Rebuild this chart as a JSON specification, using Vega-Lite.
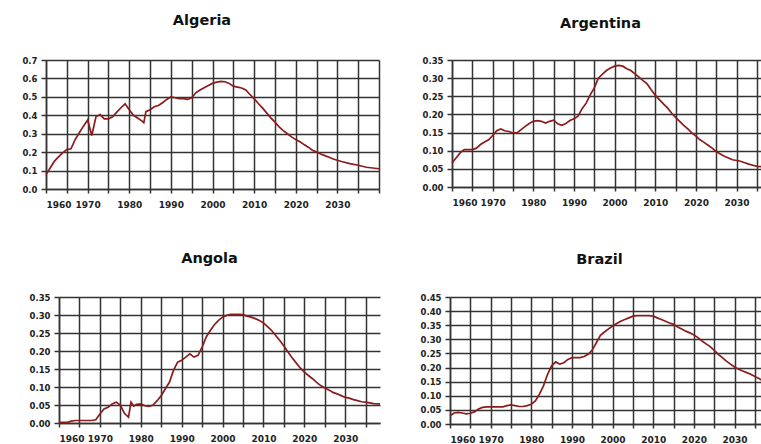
{
  "$schema": "https://vega.github.io/schema/vega-lite/v6.json",
  "padding": {"top": 12, "left": 0, "right": 0, "bottom": 0},
  "background": "white",
  "config": {
    "view": {"stroke": null},
    "font": "DejaVu Sans",
    "axis": {
      "labelFont": "DejaVu Sans",
      "labelFontWeight": "bold",
      "labelFontSize": 8.5,
      "labelColor": "#222222",
      "domainColor": "#333333",
      "domainWidth": 1.5,
      "tickColor": "#333333",
      "tickWidth": 1.5,
      "gridColor": "#333333",
      "gridWidth": 1.5,
      "gridOpacity": 1,
      "title": null
    },
    "axisX": {"tickSize": 4, "labelPadding": 7, "labelFontSize": 9},
    "axisY": {"tickSize": 5, "labelPadding": 4},
    "title": {"font": "DejaVu Sans", "fontSize": 14.5, "fontWeight": "bold", "color": "#111111", "anchor": "middle", "frame": "group", "baseline": "alphabetic"}
  },
  "data": {"values": [
    {"country": "Algeria", "year": 1960, "value": 0.078},
    {"country": "Algeria", "year": 1961, "value": 0.114},
    {"country": "Algeria", "year": 1962, "value": 0.15},
    {"country": "Algeria", "year": 1963, "value": 0.174},
    {"country": "Algeria", "year": 1964, "value": 0.196},
    {"country": "Algeria", "year": 1965, "value": 0.214},
    {"country": "Algeria", "year": 1966, "value": 0.218},
    {"country": "Algeria", "year": 1967, "value": 0.268},
    {"country": "Algeria", "year": 1968, "value": 0.305},
    {"country": "Algeria", "year": 1969, "value": 0.341},
    {"country": "Algeria", "year": 1970, "value": 0.374},
    {"country": "Algeria", "year": 1971, "value": 0.29},
    {"country": "Algeria", "year": 1972, "value": 0.392},
    {"country": "Algeria", "year": 1973, "value": 0.404},
    {"country": "Algeria", "year": 1974, "value": 0.381},
    {"country": "Algeria", "year": 1975, "value": 0.381},
    {"country": "Algeria", "year": 1976, "value": 0.392},
    {"country": "Algeria", "year": 1977, "value": 0.417},
    {"country": "Algeria", "year": 1978, "value": 0.441},
    {"country": "Algeria", "year": 1979, "value": 0.462},
    {"country": "Algeria", "year": 1980, "value": 0.43},
    {"country": "Algeria", "year": 1981, "value": 0.4},
    {"country": "Algeria", "year": 1982, "value": 0.385},
    {"country": "Algeria", "year": 1983, "value": 0.37},
    {"country": "Algeria", "year": 1983.5, "value": 0.36},
    {"country": "Algeria", "year": 1984, "value": 0.42},
    {"country": "Algeria", "year": 1985, "value": 0.43},
    {"country": "Algeria", "year": 1986, "value": 0.446},
    {"country": "Algeria", "year": 1987, "value": 0.453},
    {"country": "Algeria", "year": 1988, "value": 0.468},
    {"country": "Algeria", "year": 1989, "value": 0.486},
    {"country": "Algeria", "year": 1990, "value": 0.5},
    {"country": "Algeria", "year": 1991, "value": 0.495},
    {"country": "Algeria", "year": 1992, "value": 0.49},
    {"country": "Algeria", "year": 1993, "value": 0.49},
    {"country": "Algeria", "year": 1994, "value": 0.486},
    {"country": "Algeria", "year": 1995, "value": 0.495},
    {"country": "Algeria", "year": 1996, "value": 0.522},
    {"country": "Algeria", "year": 1997, "value": 0.537},
    {"country": "Algeria", "year": 1998, "value": 0.55},
    {"country": "Algeria", "year": 1999, "value": 0.562},
    {"country": "Algeria", "year": 2000, "value": 0.573},
    {"country": "Algeria", "year": 2001, "value": 0.58},
    {"country": "Algeria", "year": 2002, "value": 0.584},
    {"country": "Algeria", "year": 2003, "value": 0.582},
    {"country": "Algeria", "year": 2004, "value": 0.573},
    {"country": "Algeria", "year": 2005, "value": 0.558},
    {"country": "Algeria", "year": 2006, "value": 0.553},
    {"country": "Algeria", "year": 2007, "value": 0.548},
    {"country": "Algeria", "year": 2008, "value": 0.537},
    {"country": "Algeria", "year": 2009, "value": 0.513},
    {"country": "Algeria", "year": 2010, "value": 0.49},
    {"country": "Algeria", "year": 2011, "value": 0.464},
    {"country": "Algeria", "year": 2012, "value": 0.44},
    {"country": "Algeria", "year": 2013, "value": 0.413},
    {"country": "Algeria", "year": 2014, "value": 0.386},
    {"country": "Algeria", "year": 2015, "value": 0.363},
    {"country": "Algeria", "year": 2016, "value": 0.337},
    {"country": "Algeria", "year": 2017, "value": 0.317},
    {"country": "Algeria", "year": 2018, "value": 0.3},
    {"country": "Algeria", "year": 2019, "value": 0.283},
    {"country": "Algeria", "year": 2020, "value": 0.268},
    {"country": "Algeria", "year": 2021, "value": 0.256},
    {"country": "Algeria", "year": 2022, "value": 0.241},
    {"country": "Algeria", "year": 2023, "value": 0.227},
    {"country": "Algeria", "year": 2024, "value": 0.21},
    {"country": "Algeria", "year": 2025, "value": 0.2},
    {"country": "Algeria", "year": 2026, "value": 0.19},
    {"country": "Algeria", "year": 2027, "value": 0.181},
    {"country": "Algeria", "year": 2028, "value": 0.172},
    {"country": "Algeria", "year": 2029, "value": 0.163},
    {"country": "Algeria", "year": 2031, "value": 0.149},
    {"country": "Algeria", "year": 2033, "value": 0.138},
    {"country": "Algeria", "year": 2035, "value": 0.129},
    {"country": "Algeria", "year": 2037, "value": 0.118},
    {"country": "Algeria", "year": 2040, "value": 0.11},

    {"country": "Argentina", "year": 1960, "value": 0.066},
    {"country": "Argentina", "year": 1961, "value": 0.08},
    {"country": "Argentina", "year": 1962, "value": 0.094},
    {"country": "Argentina", "year": 1963, "value": 0.103},
    {"country": "Argentina", "year": 1964, "value": 0.103},
    {"country": "Argentina", "year": 1965, "value": 0.103},
    {"country": "Argentina", "year": 1966, "value": 0.107},
    {"country": "Argentina", "year": 1967, "value": 0.117},
    {"country": "Argentina", "year": 1968, "value": 0.124},
    {"country": "Argentina", "year": 1969, "value": 0.13},
    {"country": "Argentina", "year": 1970, "value": 0.142},
    {"country": "Argentina", "year": 1971, "value": 0.155},
    {"country": "Argentina", "year": 1972, "value": 0.16},
    {"country": "Argentina", "year": 1973, "value": 0.155},
    {"country": "Argentina", "year": 1974, "value": 0.153},
    {"country": "Argentina", "year": 1975, "value": 0.149},
    {"country": "Argentina", "year": 1976, "value": 0.149},
    {"country": "Argentina", "year": 1977, "value": 0.158},
    {"country": "Argentina", "year": 1978, "value": 0.167},
    {"country": "Argentina", "year": 1979, "value": 0.175},
    {"country": "Argentina", "year": 1980, "value": 0.181},
    {"country": "Argentina", "year": 1981, "value": 0.183},
    {"country": "Argentina", "year": 1982, "value": 0.181},
    {"country": "Argentina", "year": 1983, "value": 0.176},
    {"country": "Argentina", "year": 1984, "value": 0.181},
    {"country": "Argentina", "year": 1985, "value": 0.184},
    {"country": "Argentina", "year": 1986, "value": 0.174},
    {"country": "Argentina", "year": 1987, "value": 0.17},
    {"country": "Argentina", "year": 1988, "value": 0.175},
    {"country": "Argentina", "year": 1989, "value": 0.183},
    {"country": "Argentina", "year": 1990, "value": 0.188},
    {"country": "Argentina", "year": 1991, "value": 0.195},
    {"country": "Argentina", "year": 1992, "value": 0.216},
    {"country": "Argentina", "year": 1993, "value": 0.231},
    {"country": "Argentina", "year": 1994, "value": 0.254},
    {"country": "Argentina", "year": 1995, "value": 0.273},
    {"country": "Argentina", "year": 1996, "value": 0.3},
    {"country": "Argentina", "year": 1997, "value": 0.311},
    {"country": "Argentina", "year": 1998, "value": 0.321},
    {"country": "Argentina", "year": 1999, "value": 0.328},
    {"country": "Argentina", "year": 2000, "value": 0.333},
    {"country": "Argentina", "year": 2001, "value": 0.335},
    {"country": "Argentina", "year": 2002, "value": 0.333},
    {"country": "Argentina", "year": 2003, "value": 0.326},
    {"country": "Argentina", "year": 2004, "value": 0.321},
    {"country": "Argentina", "year": 2005, "value": 0.312},
    {"country": "Argentina", "year": 2006, "value": 0.303},
    {"country": "Argentina", "year": 2007, "value": 0.293},
    {"country": "Argentina", "year": 2008, "value": 0.284},
    {"country": "Argentina", "year": 2009, "value": 0.268},
    {"country": "Argentina", "year": 2010, "value": 0.253},
    {"country": "Argentina", "year": 2011, "value": 0.241},
    {"country": "Argentina", "year": 2012, "value": 0.229},
    {"country": "Argentina", "year": 2013, "value": 0.218},
    {"country": "Argentina", "year": 2014, "value": 0.204},
    {"country": "Argentina", "year": 2015, "value": 0.192},
    {"country": "Argentina", "year": 2016, "value": 0.181},
    {"country": "Argentina", "year": 2017, "value": 0.17},
    {"country": "Argentina", "year": 2018, "value": 0.16},
    {"country": "Argentina", "year": 2019, "value": 0.149},
    {"country": "Argentina", "year": 2020, "value": 0.14},
    {"country": "Argentina", "year": 2021, "value": 0.13},
    {"country": "Argentina", "year": 2022, "value": 0.123},
    {"country": "Argentina", "year": 2023, "value": 0.115},
    {"country": "Argentina", "year": 2024, "value": 0.107},
    {"country": "Argentina", "year": 2025, "value": 0.098},
    {"country": "Argentina", "year": 2026, "value": 0.091},
    {"country": "Argentina", "year": 2027, "value": 0.085},
    {"country": "Argentina", "year": 2028, "value": 0.08},
    {"country": "Argentina", "year": 2029, "value": 0.075},
    {"country": "Argentina", "year": 2030, "value": 0.073},
    {"country": "Argentina", "year": 2031, "value": 0.071},
    {"country": "Argentina", "year": 2032, "value": 0.067},
    {"country": "Argentina", "year": 2033, "value": 0.063},
    {"country": "Argentina", "year": 2034, "value": 0.06},
    {"country": "Argentina", "year": 2035, "value": 0.057},
    {"country": "Argentina", "year": 2036.5, "value": 0.056},

    {"country": "Angola", "year": 1960, "value": 0.002},
    {"country": "Angola", "year": 1962, "value": 0.002},
    {"country": "Angola", "year": 1963, "value": 0.005},
    {"country": "Angola", "year": 1964, "value": 0.007},
    {"country": "Angola", "year": 1966, "value": 0.007},
    {"country": "Angola", "year": 1968, "value": 0.007},
    {"country": "Angola", "year": 1969, "value": 0.009},
    {"country": "Angola", "year": 1970, "value": 0.025},
    {"country": "Angola", "year": 1971, "value": 0.039},
    {"country": "Angola", "year": 1972, "value": 0.044},
    {"country": "Angola", "year": 1973, "value": 0.053},
    {"country": "Angola", "year": 1974, "value": 0.058},
    {"country": "Angola", "year": 1975, "value": 0.05},
    {"country": "Angola", "year": 1976, "value": 0.027},
    {"country": "Angola", "year": 1977, "value": 0.016},
    {"country": "Angola", "year": 1977.6, "value": 0.058},
    {"country": "Angola", "year": 1978.3, "value": 0.047},
    {"country": "Angola", "year": 1979, "value": 0.052},
    {"country": "Angola", "year": 1980, "value": 0.053},
    {"country": "Angola", "year": 1981, "value": 0.048},
    {"country": "Angola", "year": 1982, "value": 0.046},
    {"country": "Angola", "year": 1983, "value": 0.05},
    {"country": "Angola", "year": 1984, "value": 0.062},
    {"country": "Angola", "year": 1985, "value": 0.076},
    {"country": "Angola", "year": 1986, "value": 0.095},
    {"country": "Angola", "year": 1987, "value": 0.113},
    {"country": "Angola", "year": 1988, "value": 0.146},
    {"country": "Angola", "year": 1989, "value": 0.169},
    {"country": "Angola", "year": 1990, "value": 0.174},
    {"country": "Angola", "year": 1991, "value": 0.183},
    {"country": "Angola", "year": 1992, "value": 0.192},
    {"country": "Angola", "year": 1993, "value": 0.183},
    {"country": "Angola", "year": 1994, "value": 0.188},
    {"country": "Angola", "year": 1995, "value": 0.211},
    {"country": "Angola", "year": 1996, "value": 0.239},
    {"country": "Angola", "year": 1997, "value": 0.257},
    {"country": "Angola", "year": 1998, "value": 0.273},
    {"country": "Angola", "year": 1999, "value": 0.285},
    {"country": "Angola", "year": 2000, "value": 0.294},
    {"country": "Angola", "year": 2001, "value": 0.299},
    {"country": "Angola", "year": 2002, "value": 0.302},
    {"country": "Angola", "year": 2003, "value": 0.302},
    {"country": "Angola", "year": 2004, "value": 0.302},
    {"country": "Angola", "year": 2005, "value": 0.301},
    {"country": "Angola", "year": 2006, "value": 0.297},
    {"country": "Angola", "year": 2007, "value": 0.294},
    {"country": "Angola", "year": 2008, "value": 0.29},
    {"country": "Angola", "year": 2009, "value": 0.285},
    {"country": "Angola", "year": 2010, "value": 0.278},
    {"country": "Angola", "year": 2011, "value": 0.268},
    {"country": "Angola", "year": 2012, "value": 0.257},
    {"country": "Angola", "year": 2013, "value": 0.243},
    {"country": "Angola", "year": 2014, "value": 0.229},
    {"country": "Angola", "year": 2015, "value": 0.214},
    {"country": "Angola", "year": 2016, "value": 0.197},
    {"country": "Angola", "year": 2017, "value": 0.181},
    {"country": "Angola", "year": 2018, "value": 0.167},
    {"country": "Angola", "year": 2019, "value": 0.153},
    {"country": "Angola", "year": 2020, "value": 0.141},
    {"country": "Angola", "year": 2021, "value": 0.132},
    {"country": "Angola", "year": 2022, "value": 0.123},
    {"country": "Angola", "year": 2023, "value": 0.113},
    {"country": "Angola", "year": 2024, "value": 0.104},
    {"country": "Angola", "year": 2025, "value": 0.097},
    {"country": "Angola", "year": 2026, "value": 0.092},
    {"country": "Angola", "year": 2027, "value": 0.085},
    {"country": "Angola", "year": 2028, "value": 0.081},
    {"country": "Angola", "year": 2029, "value": 0.076},
    {"country": "Angola", "year": 2030, "value": 0.071},
    {"country": "Angola", "year": 2031, "value": 0.069},
    {"country": "Angola", "year": 2032, "value": 0.065},
    {"country": "Angola", "year": 2033, "value": 0.062},
    {"country": "Angola", "year": 2034, "value": 0.059},
    {"country": "Angola", "year": 2035, "value": 0.058},
    {"country": "Angola", "year": 2036, "value": 0.056},
    {"country": "Angola", "year": 2037, "value": 0.054},
    {"country": "Angola", "year": 2038.5, "value": 0.053},

    {"country": "Brazil", "year": 1960, "value": 0.029},
    {"country": "Brazil", "year": 1961, "value": 0.039},
    {"country": "Brazil", "year": 1962, "value": 0.041},
    {"country": "Brazil", "year": 1963, "value": 0.039},
    {"country": "Brazil", "year": 1964, "value": 0.036},
    {"country": "Brazil", "year": 1965, "value": 0.038},
    {"country": "Brazil", "year": 1966, "value": 0.043},
    {"country": "Brazil", "year": 1967, "value": 0.053},
    {"country": "Brazil", "year": 1968, "value": 0.059},
    {"country": "Brazil", "year": 1969, "value": 0.061},
    {"country": "Brazil", "year": 1970, "value": 0.061},
    {"country": "Brazil", "year": 1971, "value": 0.061},
    {"country": "Brazil", "year": 1972, "value": 0.061},
    {"country": "Brazil", "year": 1973, "value": 0.061},
    {"country": "Brazil", "year": 1974, "value": 0.065},
    {"country": "Brazil", "year": 1975, "value": 0.068},
    {"country": "Brazil", "year": 1976, "value": 0.065},
    {"country": "Brazil", "year": 1977, "value": 0.062},
    {"country": "Brazil", "year": 1978, "value": 0.062},
    {"country": "Brazil", "year": 1979, "value": 0.065},
    {"country": "Brazil", "year": 1980, "value": 0.07},
    {"country": "Brazil", "year": 1981, "value": 0.082},
    {"country": "Brazil", "year": 1982, "value": 0.106},
    {"country": "Brazil", "year": 1983, "value": 0.135},
    {"country": "Brazil", "year": 1984, "value": 0.176},
    {"country": "Brazil", "year": 1985, "value": 0.206},
    {"country": "Brazil", "year": 1986, "value": 0.22},
    {"country": "Brazil", "year": 1987, "value": 0.212},
    {"country": "Brazil", "year": 1988, "value": 0.217},
    {"country": "Brazil", "year": 1989, "value": 0.229},
    {"country": "Brazil", "year": 1990, "value": 0.235},
    {"country": "Brazil", "year": 1991, "value": 0.235},
    {"country": "Brazil", "year": 1992, "value": 0.235},
    {"country": "Brazil", "year": 1993, "value": 0.239},
    {"country": "Brazil", "year": 1994, "value": 0.247},
    {"country": "Brazil", "year": 1995, "value": 0.262},
    {"country": "Brazil", "year": 1996, "value": 0.288},
    {"country": "Brazil", "year": 1997, "value": 0.314},
    {"country": "Brazil", "year": 1998, "value": 0.326},
    {"country": "Brazil", "year": 1999, "value": 0.337},
    {"country": "Brazil", "year": 2000, "value": 0.347},
    {"country": "Brazil", "year": 2001, "value": 0.356},
    {"country": "Brazil", "year": 2002, "value": 0.364},
    {"country": "Brazil", "year": 2003, "value": 0.37},
    {"country": "Brazil", "year": 2004, "value": 0.376},
    {"country": "Brazil", "year": 2005, "value": 0.382},
    {"country": "Brazil", "year": 2006, "value": 0.384},
    {"country": "Brazil", "year": 2007, "value": 0.384},
    {"country": "Brazil", "year": 2008, "value": 0.384},
    {"country": "Brazil", "year": 2009, "value": 0.384},
    {"country": "Brazil", "year": 2010, "value": 0.382},
    {"country": "Brazil", "year": 2011, "value": 0.376},
    {"country": "Brazil", "year": 2012, "value": 0.37},
    {"country": "Brazil", "year": 2013, "value": 0.364},
    {"country": "Brazil", "year": 2014, "value": 0.358},
    {"country": "Brazil", "year": 2015, "value": 0.353},
    {"country": "Brazil", "year": 2016, "value": 0.344},
    {"country": "Brazil", "year": 2017, "value": 0.337},
    {"country": "Brazil", "year": 2018, "value": 0.329},
    {"country": "Brazil", "year": 2019, "value": 0.323},
    {"country": "Brazil", "year": 2020, "value": 0.315},
    {"country": "Brazil", "year": 2021, "value": 0.306},
    {"country": "Brazil", "year": 2022, "value": 0.294},
    {"country": "Brazil", "year": 2023, "value": 0.284},
    {"country": "Brazil", "year": 2024, "value": 0.274},
    {"country": "Brazil", "year": 2025, "value": 0.261},
    {"country": "Brazil", "year": 2026, "value": 0.247},
    {"country": "Brazil", "year": 2027, "value": 0.235},
    {"country": "Brazil", "year": 2028, "value": 0.223},
    {"country": "Brazil", "year": 2029, "value": 0.212},
    {"country": "Brazil", "year": 2030, "value": 0.202},
    {"country": "Brazil", "year": 2031, "value": 0.194},
    {"country": "Brazil", "year": 2032, "value": 0.188},
    {"country": "Brazil", "year": 2033, "value": 0.182},
    {"country": "Brazil", "year": 2034, "value": 0.176},
    {"country": "Brazil", "year": 2035, "value": 0.168},
    {"country": "Brazil", "year": 2036, "value": 0.161},
    {"country": "Brazil", "year": 2037, "value": 0.153}
  ]},
  "spacing": 42,
  "vconcat": [
    {
      "spacing": 10,
      "hconcat": [
        {
          "title": {"text": "Algeria", "offset": 28, "dx": -10.5},
          "width": 333, "height": 129,
          "transform": [{"filter": "datum.country === 'Algeria'"}],
          "mark": {"type": "line", "color": "#8c1c1c", "strokeWidth": 1.7},
          "encoding": {
            "x": {"field": "year", "type": "quantitative",
                  "scale": {"domain": [1960, 2040], "nice": false, "zero": false},
                  "axis": {"values": [1960,1965,1970,1975,1980,1985,1990,1995,2000,2005,2010,2015,2020,2025,2030,2035,2040], "format": "d", "labelExpr": "datum.value % 10 === 0 && datum.value < 2040 ? datum.label : ''"}},
            "y": {"field": "value", "type": "quantitative",
                  "scale": {"domain": [0, 0.7], "nice": false},
                  "axis": {"values": [0,0.1,0.2,0.3,0.4,0.5,0.6,0.7], "format": ".1f", "minExtent": 46}}
          }
        },
        {
          "title": {"text": "Argentina", "offset": 25, "dx": -7},
          "width": 311, "height": 127,
          "transform": [{"filter": "datum.country === 'Argentina'"}],
          "mark": {"type": "line", "color": "#8c1c1c", "strokeWidth": 1.7},
          "encoding": {
            "x": {"field": "year", "type": "quantitative",
                  "scale": {"domain": [1960, 2036.5], "nice": false, "zero": false},
                  "axis": {"values": [1960,1965,1970,1975,1980,1985,1990,1995,2000,2005,2010,2015,2020,2025,2030,2035], "format": "d", "labelExpr": "datum.value % 10 === 0 ? datum.label : ''"}},
            "y": {"field": "value", "type": "quantitative",
                  "scale": {"domain": [0, 0.35], "nice": false},
                  "axis": {"values": [0,0.05,0.1,0.15,0.2,0.25,0.3,0.35], "format": ".2f", "minExtent": 59}}
          }
        }
      ]
    },
    {
      "spacing": 10,
      "hconcat": [
        {
          "spacing": 10,
          "bounds": "flush",
          "hconcat": [
            {"data": {"values": []}, "width": 3, "height": 126, "mark": "point"},
            {
              "title": {"text": "Angola", "offset": 26.3, "dx": -10},
              "width": 321, "height": 126,
              "transform": [{"filter": "datum.country === 'Angola'"}],
              "mark": {"type": "line", "color": "#8c1c1c", "strokeWidth": 1.7},
              "encoding": {
                "x": {"field": "year", "type": "quantitative",
                      "scale": {"domain": [1960, 2038.5], "nice": false, "zero": false},
                      "axis": {"values": [1960,1965,1970,1975,1980,1985,1990,1995,2000,2005,2010,2015,2020,2025,2030,2035], "format": "d", "labelExpr": "datum.value % 10 === 0 ? datum.label : ''"}},
                "y": {"field": "value", "type": "quantitative",
                      "scale": {"domain": [0, 0.35], "nice": false},
                      "axis": {"values": [0,0.05,0.1,0.15,0.2,0.25,0.3,0.35], "format": ".2f"}}
              }
            }
          ]
        },
        {
          "title": {"text": "Brazil", "offset": 25.3, "dx": -7},
          "width": 313, "height": 127,
          "transform": [{"filter": "datum.country === 'Brazil'"}],
          "mark": {"type": "line", "color": "#8c1c1c", "strokeWidth": 1.7},
          "encoding": {
            "x": {"field": "year", "type": "quantitative",
                  "scale": {"domain": [1960, 2037], "nice": false, "zero": false},
                  "axis": {"values": [1960,1965,1970,1975,1980,1985,1990,1995,2000,2005,2010,2015,2020,2025,2030,2035], "format": "d", "labelExpr": "datum.value % 10 === 0 ? datum.label : ''"}},
            "y": {"field": "value", "type": "quantitative",
                  "scale": {"domain": [0, 0.45], "nice": false},
                  "axis": {"values": [0,0.05,0.1,0.15,0.2,0.25,0.3,0.35,0.4,0.45], "format": ".2f", "minExtent": 56}}
          }
        }
      ]
    }
  ]
}
